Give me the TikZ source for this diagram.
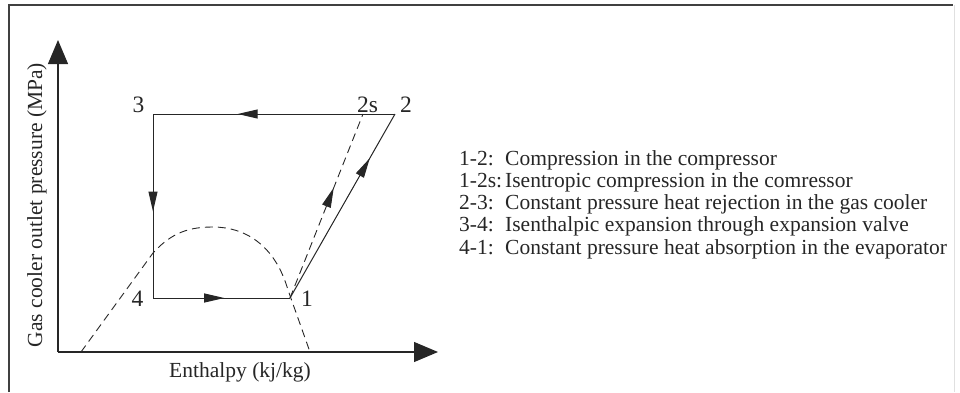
\documentclass[tikz,border=0pt]{standalone}
\usepackage{fontspec}
\setmainfont{Liberation Serif}
\usetikzlibrary{arrows.meta,decorations.markings}
\begin{document}
\begin{tikzpicture}[x=1pt,y=-1pt,
  line/.style={line width=1pt,draw=black!85},
  dashline/.style={line width=0.9pt,draw=black!85,dash pattern=on 8pt off 5pt},
  axis/.style={line width=1.1pt,draw=black!85,-{Triangle[length=24pt,width=20pt]}},
  flow/.style={decoration={markings,mark=at position #1 with {\arrow{Triangle[length=20pt,width=9pt]}}},postaction={decorate}},
  ptlabel/.style={font=\fontsize{23.5}{26}\selectfont,inner sep=0pt,anchor=base,text=black!85},
  axlabel/.style={font=\fontsize{21.5}{24}\selectfont,inner sep=0pt,text=black!85},
  legend/.style={font=\fontsize{21.5}{24}\selectfont,inner sep=0pt,anchor=base west,text=black!85}
]
\useasboundingbox (0,0) rectangle (960,392);
% frame
\draw[black!75,line width=1.6pt] (9,392) -- (9,5) -- (953,5);
\draw[black!12,line width=1pt] (954,5) -- (954,392);
% axes
\coordinate (O) at (58,352);
\coordinate (ytip) at (58,40);
\coordinate (xtip) at (438,352);
\draw[axis] (O) -- (ytip);
\draw[axis] (O) -- (xtip);
% cycle points
\coordinate (p1) at (290,298);
\coordinate (p2) at (395,114);
\coordinate (p2s) at (363,114);
\coordinate (p3) at (153,114);
\coordinate (p4) at (153,298);
% saturation dome
\coordinate (d0) at (81,352);
\coordinate (d1) at (153,253);
\coordinate (dtop) at (213,227);
\coordinate (d2) at (288,290);
\coordinate (d3) at (310,352);
\draw[dashline] (d0) -- (d1) .. controls (172,232) and (190,227) .. (dtop)
  .. controls (245,227) and (275,245) .. (d2) -- (d3);
% cycle
\draw[line,flow=0.65] (p2) -- (p3);
\draw[line,flow=0.53] (p3) -- (p4);
\draw[line,flow=0.52] (p4) -- (p1);
\draw[line,flow=0.76] (p1) -- (p2);
\draw[dashline,flow=0.6] (p1) -- (p2s);
% point labels
\node[ptlabel] (l3) at (138.5,112) {3};
\node[ptlabel] (l2s) at (367.5,112) {2s};
\node[ptlabel] (l2) at (406,112) {2};
\node[ptlabel] (l4) at (137.5,306) {4};
\node[ptlabel] (l1) at (307,306) {1};
% axis labels
\node[axlabel,anchor=base] (xl) at (240,377) {Enthalpy (kj/kg)};
\node[axlabel,rotate=90] (yl) at (37,205) {Gas cooler outlet pressure (MPa)};
% legend
\node[legend] (g1) at (459,165) {\makebox[46pt][l]{1-2:}Compression in the compressor};
\node[legend] (g2) at (459,187.3) {\makebox[46pt][l]{1-2s:}Isentropic compression in the comressor};
\node[legend] (g3) at (459,209.6) {\makebox[46pt][l]{2-3:}Constant pressure heat rejection in the gas cooler};
\node[legend] (g4) at (459,231.9) {\makebox[46pt][l]{3-4:}Isenthalpic expansion through expansion valve};
\node[legend] (g5) at (459,254.2) {\makebox[46pt][l]{4-1:}Constant pressure heat absorption in the evaporator};
\end{tikzpicture}
\end{document}
